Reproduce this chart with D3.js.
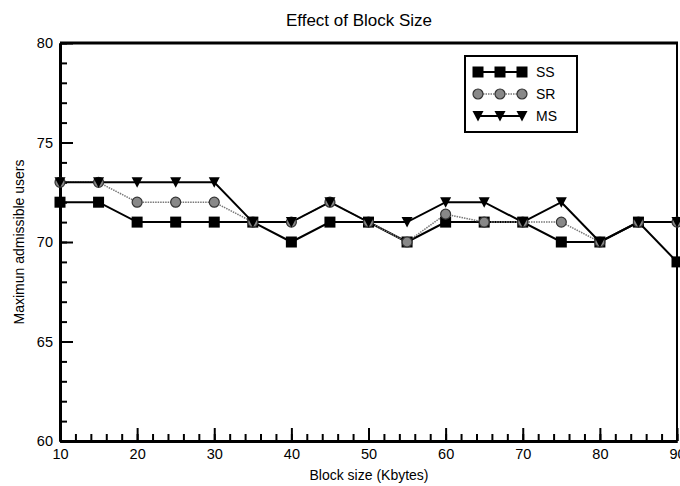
<!DOCTYPE html>
<html>
<head>
<meta charset="utf-8">
<script src="https://cdn.jsdelivr.net/npm/d3@7"></script>
<style>
  body { margin: 0; background: #fff; }
  text { font-family: "Liberation Sans", Arial, sans-serif; fill: #000; }
</style>
</head>
<body>
<svg id="chart" width="680" height="486"></svg>
<script>
// block sizes (Kbytes)
var blockSizes = [10, 15, 20, 25, 30, 35, 40, 45, 50, 55, 60, 65, 70, 75, 80, 85, 90];
var ssUsers = [72, 72, 71, 71, 71, 71, 70, 71, 71, 70, 71, 71, 71, 70, 70, 71, 69];
var srUsers = [73, 73, 72, 72, 72, 71, 71, 72, 71, 70, 71.4, 71, 71, 71, 70, 71, 71];
var msUsers = [73, 73, 73, 73, 73, 71, 71, 72, 71, 71, 72, 72, 71, 72, 70, 71, 71];
var seriesNames = ["SS", "SR", "MS"];
var xTicks = [10, 20, 30, 40, 50, 60, 70, 80, 90];
var yTicks = [60, 65, 70, 75, 80];

var svg = d3.select("#chart");
var mLeft = 60, mRight = 677, mTop = 43, mBottom = 441;

var x = d3.scaleLinear().domain([10, 90]).range([mLeft, mRight]);
var y = d3.scaleLinear().domain([60, 80]).range([mBottom, mTop]);

// title
svg.append("text")
   .attr("x", 359).attr("y", 26)
   .attr("text-anchor", "middle")
   .attr("font-size", "17px")
   .text("Effect of Block Size");

// frame: thick top, right line
svg.append("line").attr("x1", mLeft).attr("x2", mRight + 1).attr("y1", mTop).attr("y2", mTop)
   .attr("stroke", "#000").attr("stroke-width", 3);
svg.append("line").attr("x1", mRight).attr("x2", mRight).attr("y1", mTop).attr("y2", mBottom)
   .attr("stroke", "#000").attr("stroke-width", 2);

// x axis with inward ticks
var gx = svg.append("g").attr("transform", "translate(0," + mBottom + ")");
gx.call(d3.axisBottom(x).tickValues(d3.range(10, 91, 2)).tickSize(-7).tickSizeOuter(0).tickFormat(""));
gx.append("g").call(d3.axisBottom(x).tickValues(xTicks).tickSize(-13).tickSizeOuter(0).tickFormat(d3.format("d")));
gx.selectAll(".domain").attr("stroke-width", 3);
gx.selectAll("line").attr("stroke-width", 2);
gx.selectAll("text").attr("font-size", "14.5px").attr("y", 4).attr("dy", "0.95em");

// y axis with inward ticks
var gy = svg.append("g").attr("transform", "translate(" + mLeft + ",0)");
gy.call(d3.axisLeft(y).tickValues(d3.range(60, 81, 1)).tickSize(-7).tickSizeOuter(0).tickFormat(""));
gy.append("g").call(d3.axisLeft(y).tickValues(yTicks).tickSize(-13).tickSizeOuter(0).tickFormat(d3.format("d")));
gy.selectAll(".domain").attr("stroke-width", 3);
gy.selectAll("line").attr("stroke-width", 2);
gy.selectAll("text").attr("font-size", "14.5px").attr("x", -7);

// axis titles
svg.append("text")
   .attr("x", 369).attr("y", 480)
   .attr("text-anchor", "middle")
   .attr("font-size", "14px")
   .text("Block size (Kbytes)");
svg.append("text")
   .attr("transform", "translate(24,242) rotate(-90)")
   .attr("text-anchor", "middle")
   .attr("font-size", "14px")
   .text("Maximun admissible users");

var series = [
  { name: seriesNames[0], values: ssUsers, color: "#000", width: 2, dash: null, marker: "square" },
  { name: seriesNames[1], values: srUsers, color: "#777", width: 1.5, dash: "1.5,1", marker: "circle" },
  { name: seriesNames[2], values: msUsers, color: "#000", width: 2, dash: null, marker: "triangle" }
];

var line = d3.line().x(function(d) { return x(d[0]); }).y(function(d) { return y(d[1]); });

function drawMarker(g, kind, cx, cy) {
  if (kind === "square") {
    g.append("rect").attr("x", cx - 5.5).attr("y", cy - 5.5).attr("width", 11).attr("height", 11)
     .attr("fill", "#000");
  } else if (kind === "circle") {
    g.append("circle").attr("cx", cx).attr("cy", cy).attr("r", 5)
     .attr("fill", "#888").attr("stroke", "#333").attr("stroke-width", 1.2);
  } else {
    g.append("path").attr("d", "M" + (cx - 5.5) + "," + (cy - 5) + "L" + (cx + 5.5) + "," + (cy - 5) + "L" + cx + "," + (cy + 5.5) + "Z")
     .attr("fill", "#000");
  }
}

var plot = svg.append("g");
series.forEach(function(s) {
  var pts = blockSizes.map(function(b, i) { return [b, s.values[i]]; });
  plot.append("path").datum(pts)
      .attr("d", line)
      .attr("fill", "none")
      .attr("stroke", s.color)
      .attr("stroke-width", s.width)
      .attr("stroke-dasharray", s.dash);
});
series.forEach(function(s) {
  var g = plot.append("g");
  blockSizes.forEach(function(b, i) { drawMarker(g, s.marker, x(b), y(s.values[i])); });
});

// legend
var lg = svg.append("g");
lg.append("rect").attr("x", 465).attr("y", 56).attr("width", 112).attr("height", 76)
  .attr("fill", "#fff").attr("stroke", "#000").attr("stroke-width", 2);
series.forEach(function(s, i) {
  var ly = 72 + i * 22;
  var g = lg.append("g");
  g.append("line").attr("x1", 478).attr("x2", 522).attr("y1", ly).attr("y2", ly)
   .attr("stroke", s.color).attr("stroke-width", s.width).attr("stroke-dasharray", s.dash);
  [478, 500, 522].forEach(function(mx) { drawMarker(g, s.marker, mx, ly); });
  g.append("text").attr("x", 536).attr("y", ly + 5).attr("font-size", "14px").text(s.name);
});
</script>
</body>
</html>
